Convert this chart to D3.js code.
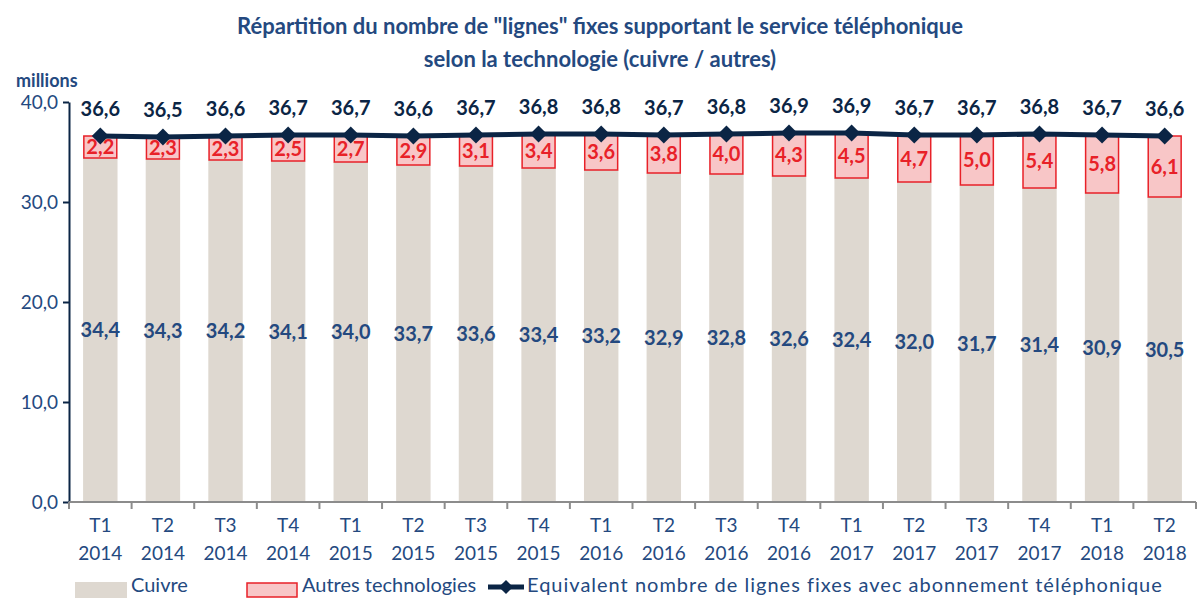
<!DOCTYPE html>
<html>
<head>
<meta charset="utf-8">
<script src="https://cdn.jsdelivr.net/npm/d3@7"></script>
<style>
  body { margin: 0; background: #fff; }
  text { font-family: Lato, "Open Sans", sans-serif; }
</style>
</head>
<body>
<div id="container"></div>
<script>
const quarters = ["T1", "T2", "T3", "T4", "T1", "T2", "T3", "T4", "T1", "T2", "T3", "T4", "T1", "T2", "T3", "T4", "T1", "T2"];
const years = ["2014", "2014", "2014", "2014", "2015", "2015", "2015", "2015", "2016", "2016", "2016", "2016", "2017", "2017", "2017", "2017", "2018", "2018"];
const cuivre = [34.4, 34.3, 34.2, 34.1, 34.0, 33.7, 33.6, 33.4, 33.2, 32.9, 32.8, 32.6, 32.4, 32.0, 31.7, 31.4, 30.9, 30.5];
const autres = [2.2, 2.3, 2.3, 2.5, 2.7, 2.9, 3.1, 3.4, 3.6, 3.8, 4.0, 4.3, 4.5, 4.7, 5.0, 5.4, 5.8, 6.1];
const total = [36.6, 36.5, 36.6, 36.7, 36.7, 36.6, 36.7, 36.8, 36.8, 36.7, 36.8, 36.9, 36.9, 36.7, 36.7, 36.8, 36.7, 36.6];
const yTicks = [0, 10, 20, 30, 40];

const W = 1198, H = 598;
const margin = { top: 102, right: 2, bottom: 96, left: 69 };
const w = W - margin.left - margin.right;
const h = H - margin.top - margin.bottom;

const navy = "#0b2545";
const blue = "#24497f";
const fmt = (v) => d3.format(".1f")(v).replace(".", ",");

const data = quarters.map((q, i) => ({
  key: i, q: q, year: years[i], cuivre: cuivre[i], autres: autres[i], total: total[i]
}));

const svg = d3.select("#container").append("svg")
  .attr("width", W).attr("height", H);

svg.append("text")
  .attr("x", 600).attr("y", 34)
  .attr("text-anchor", "middle")
  .attr("font-size", 22).attr("font-weight", "bold").attr("fill", blue)
  .text('Répartition du nombre de "lignes" fixes supportant le service téléphonique');
svg.append("text")
  .attr("x", 600).attr("y", 67)
  .attr("text-anchor", "middle")
  .attr("font-size", 22).attr("font-weight", "bold").attr("fill", blue)
  .text("selon la technologie (cuivre / autres)");

svg.append("text")
  .attr("x", 16).attr("y", 87)
  .attr("font-size", 18).attr("font-weight", "bold").attr("fill", blue)
  .text("millions");

const g = svg.append("g").attr("transform", `translate(${margin.left},${margin.top})`);

const xScale = d3.scaleBand().domain(data.map((d) => d.key)).range([0, w]).paddingInner(0.45).paddingOuter(0.225);
const yScale = d3.scaleLinear().domain([0, 40]).range([h, 0]);
const step = w / data.length;

// cuivre bars
g.selectAll(".cu").data(data).join("rect")
  .attr("x", (d) => xScale(d.key))
  .attr("width", xScale.bandwidth())
  .attr("y", (d) => yScale(d.cuivre))
  .attr("height", (d) => yScale(0) - yScale(d.cuivre))
  .attr("fill", "#ded8d0");

// autres bars
g.selectAll(".au").data(data).join("rect")
  .attr("x", (d) => xScale(d.key) + 0.75)
  .attr("width", xScale.bandwidth() - 1.5)
  .attr("y", (d) => yScale(d.cuivre + d.autres))
  .attr("height", (d) => yScale(d.cuivre) - yScale(d.cuivre + d.autres))
  .attr("fill", "#f8c6c7")
  .attr("stroke", "#e82128")
  .attr("stroke-width", 1.5);

// y axis
const yAxis = g.append("g")
  .call(d3.axisLeft(yScale).tickValues(yTicks).tickSize(6).tickSizeOuter(0).tickFormat(fmt));
yAxis.select(".domain").attr("stroke", navy).attr("stroke-width", 2);
yAxis.selectAll(".tick line").attr("stroke", navy).attr("stroke-width", 2);
yAxis.selectAll(".tick text").attr("font-size", 19).attr("fill", blue).attr("x", -11)
  .style("font-family", "Lato, sans-serif");

// x axis
const xAxis = g.append("g").attr("transform", `translate(0,${h})`);
xAxis.append("line").attr("x1", 0).attr("x2", w).attr("stroke", "#8c8c8c").attr("stroke-width", 2);
xAxis.selectAll(".xt").data(d3.range(data.length + 1)).join("line")
  .attr("x1", (i) => i * step).attr("x2", (i) => i * step)
  .attr("y1", 0).attr("y2", 7)
  .attr("stroke", "#8c8c8c").attr("stroke-width", 2);
xAxis.selectAll(".q").data(data).join("text")
  .attr("x", (d) => xScale(d.key) + xScale.bandwidth() / 2)
  .attr("y", 30)
  .attr("text-anchor", "middle").attr("font-size", 19).attr("fill", blue)
  .text((d) => d.q);
xAxis.selectAll(".yr").data(data).join("text")
  .attr("x", (d) => xScale(d.key) + xScale.bandwidth() / 2)
  .attr("y", 58)
  .attr("text-anchor", "middle").attr("font-size", 19).attr("fill", blue)
  .text((d) => d.year);

// total line
const cx = (d) => xScale(d.key) + xScale.bandwidth() / 2;
const line = d3.line().x(cx).y((d) => yScale(d.total));
g.append("path").datum(data)
  .attr("fill", "none").attr("stroke", navy).attr("stroke-width", 5)
  .attr("d", line);
g.selectAll(".dm").data(data).join("path")
  .attr("transform", (d) => `translate(${cx(d)},${yScale(d.total)}) rotate(45)`)
  .attr("d", "M-6,-6H6V6H-6Z")
  .attr("fill", navy);

// labels
g.selectAll(".lt").data(data).join("text")
  .attr("x", cx).attr("y", (d) => yScale(d.total) - 20)
  .attr("text-anchor", "middle").attr("font-size", 20).attr("font-weight", "bold").attr("fill", navy)
  .text((d) => fmt(d.total));
g.selectAll(".la").data(data).join("text")
  .attr("x", cx).attr("y", (d) => yScale(d.cuivre + d.autres / 2) + 7)
  .attr("text-anchor", "middle").attr("font-size", 20).attr("font-weight", "bold").attr("fill", "#e82128")
  .text((d) => fmt(d.autres));
g.selectAll(".lc").data(data).join("text")
  .attr("x", cx).attr("y", (d) => yScale(d.cuivre / 2) + 7)
  .attr("text-anchor", "middle").attr("font-size", 20).attr("font-weight", "bold").attr("fill", blue)
  .text((d) => fmt(d.cuivre));

// legend
const lg = svg.append("g").attr("transform", "translate(0,585)");
lg.append("rect").attr("x", 75).attr("y", -3).attr("width", 52).attr("height", 16).attr("fill", "#ded8d0");
lg.append("text").attr("x", 131).attr("y", 7).attr("font-size", 20).attr("fill", blue).text("Cuivre");
lg.append("rect").attr("x", 247).attr("y", -2).attr("width", 50).attr("height", 14)
  .attr("fill", "#f8c6c7").attr("stroke", "#e82128").attr("stroke-width", 1.5);
lg.append("text").attr("x", 302).attr("y", 7).attr("font-size", 20).attr("fill", blue).text("Autres technologies");
lg.append("line").attr("x1", 488).attr("x2", 524).attr("y1", 2).attr("y2", 2)
  .attr("stroke", navy).attr("stroke-width", 5);
lg.append("path").attr("transform", "translate(506,2) rotate(45)").attr("d", "M-5,-5H5V5H-5Z").attr("fill", navy);
lg.append("text").attr("x", 527).attr("y", 7).attr("font-size", 20).attr("letter-spacing", 1).attr("fill", blue)
  .text("Equivalent nombre de lignes fixes avec abonnement téléphonique");
</script>
</body>
</html>
